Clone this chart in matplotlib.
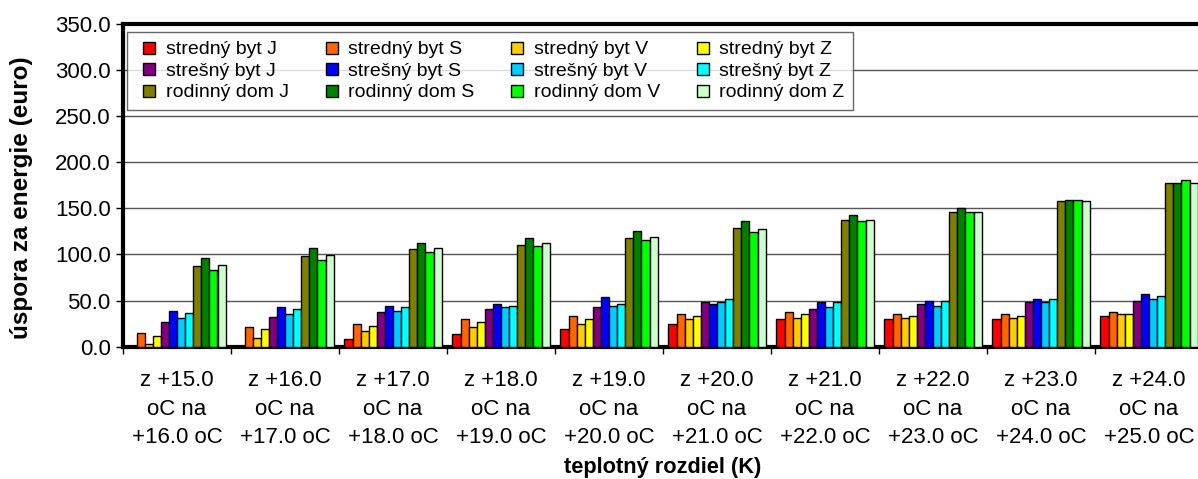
import numpy as np
import matplotlib
matplotlib.use('Agg')
import matplotlib.pyplot as plt
from matplotlib.lines import Line2D

plt.rcParams['font.family'] = ['Liberation Sans', 'DejaVu Sans']

# x categories (temperature step)
categories = [f"z +{t:.1f}\noC na\n+{t + 1:.1f} oC" for t in range(15, 25)]

series_names = [
    'stredný byt J', 'stredný byt S', 'stredný byt V', 'stredný byt Z',
    'strešný byt J', 'strešný byt S', 'strešný byt V', 'strešný byt Z',
    'rodinný dom J', 'rodinný dom S', 'rodinný dom V', 'rodinný dom Z',
]
series_colors = [
    '#FF0000', '#FF6600', '#FFCC00', '#FFFF00',
    '#800080', '#0000FF', '#00CCFF', '#00FFFF',
    '#808000', '#008000', '#00FF00', '#CCFFCC',
]

# savings (euro), one list per series, one value per category
stredny_J = [0.0, 1.0, 8.3, 14.1, 19.2, 24.6, 30.0, 30.0, 30.0, 33.6]
stredny_S = [15.2, 21.0, 24.6, 30.0, 33.6, 35.4, 37.2, 35.4, 35.4, 37.2]
stredny_V = [3.0, 9.8, 17.3, 21.0, 24.6, 30.0, 31.4, 31.4, 31.4, 35.4]
stredny_Z = [11.6, 19.0, 22.7, 26.4, 30.0, 33.6, 35.4, 33.6, 33.6, 35.4]
stresny_J = [26.4, 31.8, 37.2, 40.8, 42.6, 48.0, 40.8, 46.2, 48.0, 49.5]
stresny_S = [38.6, 42.6, 44.4, 46.2, 53.5, 46.2, 48.0, 49.5, 51.3, 56.7]
stresny_V = [31.4, 35.4, 39.0, 42.6, 44.4, 48.0, 42.6, 44.4, 48.0, 51.3]
stresny_Z = [36.8, 40.4, 42.6, 44.4, 46.2, 51.6, 48.0, 49.5, 51.3, 54.9]
rodinny_J = [87.3, 97.8, 105.4, 110.4, 117.6, 128.1, 137.5, 146.1, 157.4, 176.8]
rodinny_S = [96.3, 106.8, 111.9, 117.6, 124.9, 135.7, 142.5, 149.8, 158.8, 176.8]
rodinny_V = [83.3, 94.2, 102.8, 108.7, 115.8, 124.5, 135.7, 146.1, 158.8, 180.0]
rodinny_Z = [88.7, 99.6, 106.5, 111.9, 119.0, 128.0, 137.5, 146.1, 157.4, 176.8]

series_values = [
    stredny_J, stredny_S, stredny_V, stredny_Z,
    stresny_J, stresny_S, stresny_V, stresny_Z,
    rodinny_J, rodinny_S, rodinny_V, rodinny_Z,
]

fig = plt.figure(figsize=(11.98, 4.79), dpi=100)
ax = fig.add_axes([123 / 1198, 1 - 346.7 / 479, 1080 / 1198, 323.2 / 479])

x = np.arange(len(categories))
bar_w = 0.075
n = len(series_names)
for i, (vals, col) in enumerate(zip(series_values, series_colors)):
    offs = (i - (n - 1) / 2) * bar_w
    ax.bar(x + offs, vals, bar_w, color=col, edgecolor='black', linewidth=1.0, zorder=3)

ax.set_xlim(-0.5, len(categories) - 0.5)
ax.set_ylim(0, 350)
yt = np.arange(0, 351, 50)
ax.set_yticks(yt)
ax.set_yticklabels([f"{v:.1f}" for v in yt], fontsize=16)
ax.yaxis.grid(True, color='#555555', linewidth=1.0, zorder=0)

ax.set_xticks(x)
ax.set_xticklabels(categories, fontsize=16, linespacing=1.45)
ax.set_xticks(np.arange(-0.5, len(categories), 1), minor=True)
ax.tick_params(axis='x', which='major', length=0, pad=17)
ax.tick_params(axis='x', which='minor', length=5, width=1)
ax.tick_params(axis='y', length=5, width=1, pad=4)

for side in ['left', 'bottom', 'top', 'right']:
    ax.spines[side].set_linewidth(3.0)
    ax.spines[side].set_color('black')

ax.set_xlabel('teplotný rozdiel (K)', fontsize=15.7, fontweight='bold', labelpad=7)
ax.set_ylabel('úspora za energie (euro)', fontsize=17.5, fontweight='bold')
ax.yaxis.set_label_coords(-0.0833, 0.46)

# legend filled row by row (4 columns, 3 rows) -> reorder for matplotlib's column fill
handles = [Line2D([], [], marker='s', linestyle='none', markersize=8.6,
                  markerfacecolor=c, markeredgecolor='black', markeredgewidth=1.0)
           for c in series_colors]
ncol, nrow = 4, 3
order = [r * ncol + c for c in range(ncol) for r in range(nrow)]
leg = ax.legend([handles[k] for k in order], [series_names[k] for k in order],
                ncol=ncol, loc='upper left', bbox_to_anchor=(0.0037, 0.9737),
                borderaxespad=0, fontsize=14, frameon=True, fancybox=False,
                edgecolor='#404040', handlelength=1.4, handletextpad=0.15,
                columnspacing=1.5, labelspacing=0.2, borderpad=0.45)
leg.get_frame().set_linewidth(1.0)
leg.set_zorder(5)

fig.savefig('out.png', dpi=100)
